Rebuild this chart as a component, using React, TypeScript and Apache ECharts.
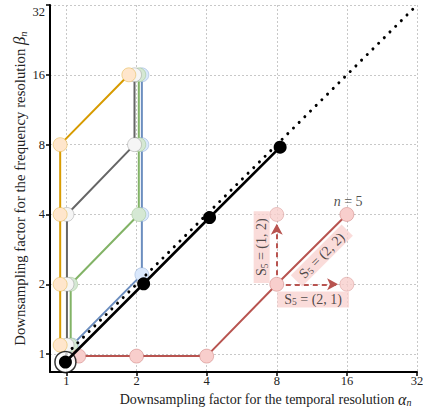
import React, { useEffect, useRef } from 'react';
import * as echarts from 'echarts';

// Axis extents and tick labels (log base 2)
const xMin = 0.85;
const yMin = 0.837;
const axisMax = 32;
const tickLabels = ['1', '2', '4', '8', '16', '32'];

// Search paths (alpha_n, beta_n)
const orangePath = [[0.94, 1.093], [0.94, 2], [0.94, 4], [0.94, 8], [1.853, 16]];
const grayPath = [[1.005, 1.093], [1.005, 2], [1.005, 4], [1.96, 8], [1.96, 16]];
const greenPath = [[1.043, 1.093], [1.043, 2], [2.045, 4], [2.045, 8], [2.045, 16]];
const bluePath = [[1.058, 1.093], [2.108, 2.2], [2.108, 4], [2.108, 8], [2.108, 16]];
const redPath = [[1.13, 0.98], [2, 0.98], [4, 0.98], [8, 2], [16, 4]];
const redCandidates = [[8, 4], [16, 2]];
const blackPath = [[0.99, 0.924], [2.145, 2.01], [4.116, 3.88], [8.27, 7.8]];
const diagonal = [[1, 1], [32, 32]];
const arrowUp = [[8, 2], [8, 3.65]];
const arrowRight = [[8, 2], [14.67, 2]];

// Annotation anchors
const labelS12 = [6.89, 2.89];
const labelS22 = [12.49, 2.66];
const labelS21 = [11.46, 1.72];
const labelN5 = [16.2, 4.57];

const SERIF = '"Liberation Serif", "DejaVu Serif", serif';

function lineSeries(name: string, data: number[][], color: string, fill: string, border: string, z: number) {
  return {
    name,
    type: 'line',
    data,
    z,
    showAllSymbol: true,
    symbol: 'circle',
    symbolSize: 14,
    lineStyle: { color, width: 2 },
    itemStyle: { color: fill, borderColor: border, borderWidth: 1, opacity: 1 },
  };
}

const richSub = {
  s: { fontFamily: SERIF, fontSize: 14, color: '#222' },
  sub: { fontFamily: SERIF, fontSize: 9.5, color: '#222', padding: [6, 0, 0, 0] },
};

function boxLabel(text: string, pos: number[], rotate: number, z: number) {
  return {
    type: 'scatter',
    data: [pos],
    z,
    symbolSize: 0,
    silent: true,
    label: {
      show: true,
      position: 'inside',
      rotate,
      formatter: text,
      backgroundColor: 'rgba(248,206,204,0.9)',
      padding: [0, 7, 0, 7],
      rich: richSub,
    },
  };
}

export default function App() {
  const ref = useRef<HTMLDivElement>(null);
  useEffect(() => {
    if (!ref.current) return;
    const chart = echarts.init(ref.current, undefined, { renderer: 'svg' });
    const axisCommon = {
      type: 'log',
      logBase: 2,
      max: axisMax,
      axisLine: { show: true, lineStyle: { color: '#000', width: 2 } },
      axisTick: { show: true, length: 4, lineStyle: { color: '#000', width: 1.5 } },
      splitLine: { show: true, lineStyle: { color: '#c8c8c8', width: 1, type: [2, 2] } },
      minorTick: { show: false },
      minorSplitLine: { show: false },
      axisLabel: {
        showMinLabel: false,
        fontFamily: SERIF,
        fontSize: 12.5,
        color: '#222',
        formatter: (v: number) => {
          const k = Math.round(Math.log2(v));
          return tickLabels[k] ?? '';
        },
      },
      nameLocation: 'middle',
    };
    const nameRich = (fs: number) => ({
      g: { fontFamily: SERIF, fontSize: fs + 2, fontStyle: 'italic', color: '#222' },
      sub: { fontFamily: SERIF, fontSize: fs - 4, fontStyle: 'italic', color: '#222', padding: [6, 0, 0, 0] },
    });
    chart.setOption({
      animation: false,
      backgroundColor: '#fff',
      grid: { left: 50, right: 6, top: 5, bottom: 48, containLabel: false, outerBoundsMode: 'none' },
      xAxis: {
        ...axisCommon,
        min: xMin,
        axisLabel: { ...axisCommon.axisLabel, margin: 2 },
        name: 'Downsampling factor for the temporal resolution {g|α}{sub|n}',
        nameGap: 5,
        nameTextStyle: {
          fontFamily: SERIF,
          fontSize: 14,
          color: '#222',
          padding: [0, 0, 0, 64],
          rich: nameRich(14),
        },
      },
      yAxis: {
        ...axisCommon,
        min: yMin,
        axisLabel: { ...axisCommon.axisLabel, margin: 5, verticalAlignMaxLabel: 'top' },
        name: 'Downsampling factor for the frequency resolution {g|β}{sub|n}',
        nameGap: 22,
        nameMoveOverlap: false,
        nameTextStyle: {
          fontFamily: SERIF,
          fontSize: 14.8,
          color: '#222',
          rich: nameRich(14.8),
        },
      },
      series: [
        lineSeries('blue', bluePath, '#6C8EBF', '#DAE8FC', 'rgba(108,142,191,0.35)', 2),
        lineSeries('green', greenPath, '#82B366', '#D5E8D4', 'rgba(130,179,102,0.35)', 3),
        lineSeries('gray', grayPath, '#666666', '#F5F5F5', 'rgba(102,102,102,0.3)', 4),
        lineSeries('orange', orangePath, '#D79B00', '#FFE6CC', 'rgba(215,155,0,0.35)', 5),
        {
          ...lineSeries('red', redPath, '#B85450', '#F8CECC', 'rgba(184,84,80,0.35)', 6),
          markLine: {
            silent: true,
            symbol: ['none', 'arrow'],
            symbolSize: [9, 11],
            label: { show: false },
            lineStyle: { color: '#B85450', width: 2, type: [5, 4] },
            data: [
              [{ coord: arrowUp[0] }, { coord: arrowUp[1] }],
              [{ coord: arrowRight[0] }, { coord: arrowRight[1] }],
            ],
          },
        },
        {
          type: 'scatter',
          data: redCandidates,
          z: 6,
          symbolSize: 14,
          itemStyle: { color: '#F8CECC', borderColor: 'rgba(184,84,80,0.35)', borderWidth: 1 },
        },
        {
          type: 'line',
          data: diagonal,
          z: 7,
          symbol: 'none',
          lineStyle: { color: '#000', width: 3, type: [0.01, 8], cap: 'round' },
        },
        {
          type: 'scatter',
          data: [blackPath[0]],
          z: 8,
          symbolSize: 21,
          itemStyle: { color: '#fff', borderColor: '#000', borderWidth: 1.5 },
        },
        {
          type: 'line',
          data: blackPath,
          z: 9,
          showAllSymbol: true,
          symbol: 'circle',
          symbolSize: 13,
          lineStyle: { color: '#000', width: 2.6 },
          itemStyle: { color: '#000', borderColor: '#000', borderWidth: 0 },
        },
        boxLabel('{s|S}{sub|5}{s| = (1, 2)}', labelS12, 90, 10),
        boxLabel('{s|S}{sub|5}{s| = (2, 2)}', labelS22, 45, 10),
        boxLabel('{s|S}{sub|5}{s| = (2, 1)}', labelS21, 0, 10),
        {
          type: 'scatter',
          data: [labelN5],
          z: 10,
          symbolSize: 0,
          silent: true,
          label: {
            show: true,
            position: 'inside',
            formatter: '{i|n}{t| = 5}',
            rich: {
              i: { fontFamily: SERIF, fontSize: 14, fontStyle: 'italic', color: '#222' },
              t: { fontFamily: SERIF, fontSize: 14, color: '#222' },
            },
          },
        },
      ],
    });
    return () => chart.dispose();
  }, []);
  return (
    <div
      ref={ref}
      style={{ position: 'fixed', left: 0, top: 0, width: 423, height: 420 }}
    />
  );
}
